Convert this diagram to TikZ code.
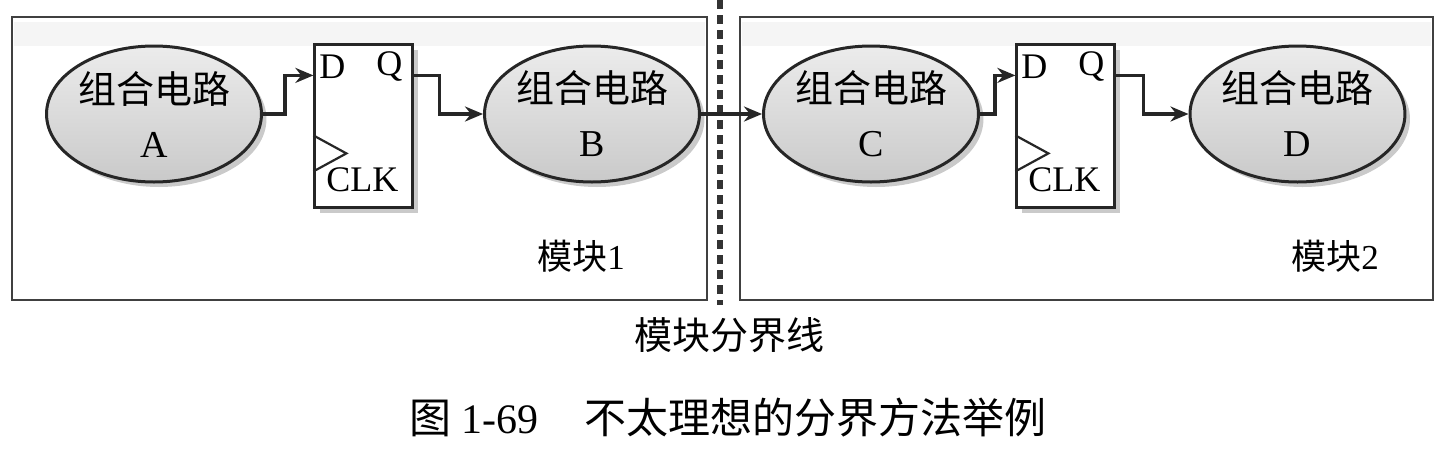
\documentclass[tikz,border=0pt]{standalone}
\usepackage{xcolor}
\usepackage{fontspec}
\setmainfont{Liberation Serif}
\newfontfamily\cjk{Noto Sans CJK SC}
\usepackage{tikz}
\usetikzlibrary{
  positioning,
  calc,
  arrows.meta,
  shapes.geometric,
  shadows
}

\tikzset{
  circuit/.style={ellipse, draw=black!85, line width=1.5pt,
    top color=gray!15, bottom color=gray!42,
    minimum width=105pt, minimum height=68pt, inner sep=0pt,
    align=center, font=\fontsize{19}{27}\selectfont,
    drop shadow={shadow xshift=2.5pt, shadow yshift=-2.5pt, fill=gray!70, opacity=0.6}},
  flipflop/.style={rectangle, draw=black!85, line width=1.1pt, fill=white,
    minimum width=49pt, minimum height=81.5pt, inner sep=0pt,
    drop shadow={shadow xshift=2.5pt, shadow yshift=-2.5pt, fill=gray!70, opacity=0.6}},
  pin/.style={inner sep=0pt, font=\fontsize{18}{18}\selectfont},
  link/.style={-{Stealth[length=9pt,width=7.5pt]}, line width=1.7pt, black!85},
  module/.style={draw=black!75, line width=1pt},
  boundary/.style={line width=3pt, gray!40!black, dash pattern=on 4.5pt off 3pt}
}

\begin{document}
\begin{tikzpicture}[x=0.5pt,y=-0.5pt]
  \useasboundingbox (0,0) rectangle (1448,467);

  % モジュールの枠
  \fill[gray!8] (14,22) rectangle (705,46);
  \fill[gray!8] (742,22) rectangle (1431,46);
  \draw[module] (12,17) rectangle (707,300);
  \draw[module] (740,17) rectangle (1433,300);
  \node[font=\fontsize{17.5}{17.5}\selectfont] (m1) at (581,256) {{\cjk 模块}1};
  \node[font=\fontsize{17.5}{17.5}\selectfont] (m2) at (1335,256) {{\cjk 模块}2};

  % 分界線
  \coordinate (bt) at (720,0);
  \coordinate (bb) at (720,305);
  \draw[boundary] (bt) -- (bb);
  \node[font=\fontsize{19}{19}\selectfont] (bl) at (729,335) {\cjk 模块分界线};

  % 組合せ回路
  \node[circuit] (A) at (154,114) {{\cjk 组合电路}\\A};
  \node[circuit] (B) at (592,114) {{\cjk 组合电路}\\B};
  \node[circuit] (C) at (871,114) {{\cjk 组合电路}\\C};
  \node[circuit] (D) at (1297.5,114) {{\cjk 组合电路}\\D};

  % フリップフロップ
  \node[flipflop] (ff1) at (363.5,126) {};
  \node[flipflop] (ff2) at (1065.5,126) {};
  \foreach \ff in {ff1,ff2} {
    \node[pin] (\ff-d) at ($(\ff.north west)+(19,23)$) {D};
    \node[pin] (\ff-q) at ($(\ff.north west)+(76,23)$) {Q};
    \node[pin] (\ff-clk) at ($(\ff.north west)+(49,136)$) {CLK};
    \draw[line width=1.1pt, black!85] ($(\ff.north west)+(0,92)$) -- ++(33,18) -- ++(-33,18);
    \coordinate (\ff-in) at ($(\ff.north west)+(0,32)$);
    \coordinate (\ff-out) at ($(\ff.north east)+(0,32)$);
  }

  % 配線
  \draw[link] (A.east) -- ++(22,0) |- (ff1-in);
  \draw[link] (ff1-out) -- ++(26,0) |- (B.west);
  \draw[link] (B.east) -- (C.west);
  \draw[link] (C.east) -- ++(15,0) |- (ff2-in);
  \draw[link] (ff2-out) -- ++(28,0) |- (D.west);

  % 図のタイトル
  \node[font=\fontsize{21}{21}\selectfont] (cap) at (728,418)
    {{\cjk 图} 1-69\hspace{1.1em}{\cjk 不太理想的分界方法举例}};
\end{tikzpicture}
\end{document}
